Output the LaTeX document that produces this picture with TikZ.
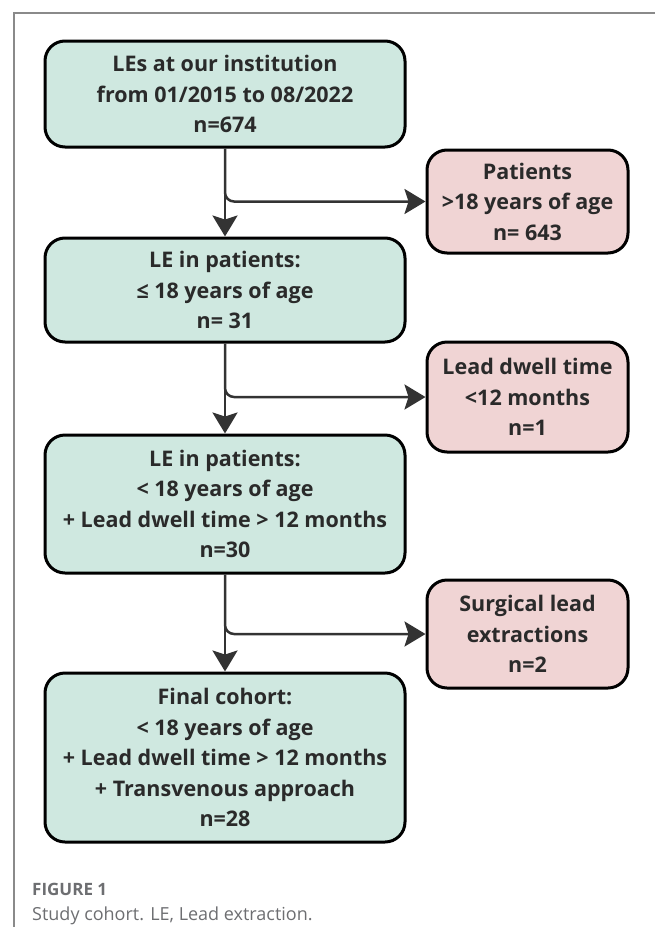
\documentclass[tikz,border=0pt]{standalone}
\usepackage{fontspec}
\setmainfont{Open Sans}
\usetikzlibrary{arrows.meta}
\definecolor{greenfill}{HTML}{CFE8E0}
\definecolor{pinkfill}{HTML}{F0D4D4}
\definecolor{txt}{HTML}{2A2A2A}
\definecolor{arrcol}{HTML}{333333}
\definecolor{capcol}{HTML}{6D6E71}
\definecolor{framecol}{HTML}{8A8A8A}
\tikzset{
  basebox/.style={draw=black, line width=3pt, rounded corners=20pt, align=center,
    text=txt, font=\fontsize{21.5}{30.5}\selectfont\bfseries, inner sep=0pt},
  mainbox/.style={basebox, fill=greenfill, minimum width=360pt},
  sidebox/.style={basebox, fill=pinkfill, minimum width=201pt},
  arr/.style={draw=arrcol, line width=2.5pt,
    -{Stealth[width=25pt,length=21pt,inset=4pt,fill=arrcol]}},
  caphead/.style={text=capcol, font=\fontsize{17}{20}\selectfont\bfseries, anchor=base west, inner sep=0pt},
  captext/.style={text=capcol, font=\fontsize{18}{20}\selectfont, anchor=base west, inner sep=0pt},
}
\begin{document}
\begin{tikzpicture}[x=1pt,y=-1pt]
\useasboundingbox (0,0) rectangle (655,927);
\draw[framecol, line width=1.2pt] (655,13) -- (14,13) -- (14,927);
\node[mainbox, minimum height=106pt] (b1) at (225,94) {LEs at our institution\\from 01/2015 to 08/2022\\n=674};
\node[mainbox, minimum height=104pt] (b2) at (225,290) {LE in patients:\\≤ 18 years of age\\n= 31};
\node[mainbox, minimum height=138pt] (b3) at (225,504) {LE in patients:\\< 18 years of age\\+ Lead dwell time > 12 months\\n=30};
\node[mainbox, minimum height=169pt] (b4) at (225,757.5) {Final cohort:\\< 18 years of age\\+ Lead dwell time > 12 months\\+ Transvenous approach\\n=28};
\node[sidebox, minimum height=103pt] (p1) at (527.5,201.5) {Patients\\>18 years of age\\n= 643};
\node[sidebox, minimum height=110pt] (p2) at (527.5,397) {Lead dwell time\\<12 months\\n=1};
\node[sidebox, minimum height=108pt] (p3) at (527.5,634) {Surgical lead\\extractions\\n=2};
\draw[arr] (b1.south) -- (b2.north);
\draw[arr, rounded corners=9pt] (b1.south) |- (p1.west);
\draw[arr] (b2.south) -- (b3.north);
\draw[arr, rounded corners=9pt] (b2.south) |- (p2.west);
\draw[arr] (b3.south) -- (b4.north);
\draw[arr, rounded corners=9pt] (b3.south) |- (p3.west);
\node[caphead] (fig) at (32,895) {FIGURE 1};
\node[captext] (cap) at (32,920) {Study cohort. LE, Lead extraction.};
\end{tikzpicture}
\end{document}
